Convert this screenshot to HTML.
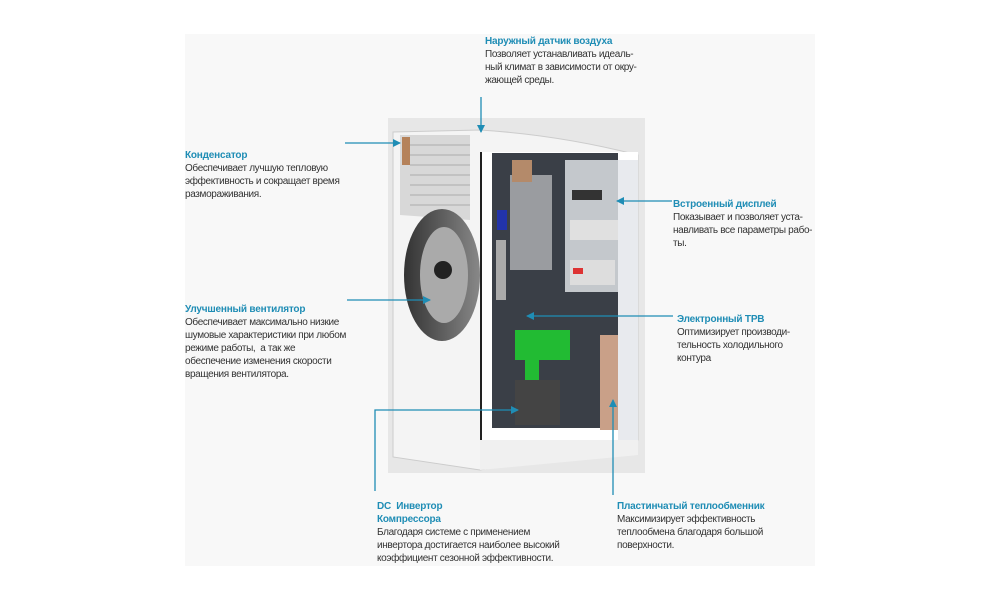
<!DOCTYPE html>
<html><head><meta charset="utf-8"><style>
html,body{margin:0;padding:0;background:#fff;}
#c{position:relative;width:1000px;height:600px;overflow:hidden;background:#fff;font-family:"Liberation Sans",sans-serif;}
#panel{position:absolute;left:185px;top:34px;width:630px;height:532px;background:#f8f8f8;}
.t{position:absolute;font-size:10px;line-height:13px;color:#333;letter-spacing:-0.35px;white-space:nowrap;}
.t b{color:#1f8db5;font-weight:bold;letter-spacing:-0.2px;}
svg{position:absolute;left:0;top:0;}
</style></head><body><div id="c">
<div id="panel"></div>
<svg width="1000" height="600" viewBox="0 0 1000 600">
<defs>
<marker id="a" markerWidth="8" markerHeight="8" refX="7" refY="4" orient="auto" markerUnits="userSpaceOnUse"><path d="M0,0 L8,4 L0,8 z" fill="#1f8db5"/></marker>
<linearGradient id="fan" x1="0" x2="1"><stop offset="0" stop-color="#333"/><stop offset="1" stop-color="#888"/></linearGradient>
</defs>
<rect x="388" y="118" width="257" height="355" fill="#e7e7e7"/>
<path d="M393,132 L480,130 Q560,135 638,155 L638,440 L480,470 L393,457 Z" fill="#f4f4f4" stroke="#ccc"/>
<path d="M400,135 L470,135 L470,220 L400,215 Z" fill="#d8d8d8"/>
<g stroke="#bbb" stroke-width="1.5"><line x1="410" y1="145" x2="470" y2="145"/><line x1="410" y1="155" x2="470" y2="155"/><line x1="410" y1="165" x2="470" y2="165"/><line x1="410" y1="175" x2="470" y2="175"/><line x1="410" y1="185" x2="470" y2="185"/><line x1="410" y1="195" x2="470" y2="195"/><line x1="410" y1="205" x2="470" y2="205"/></g>
<rect x="402" y="137" width="8" height="28" fill="#b5825a"/>
<ellipse cx="442" cy="275" rx="38" ry="66" fill="url(#fan)"/>
<ellipse cx="444" cy="275" rx="24" ry="48" fill="#aaa"/>
<circle cx="443" cy="270" r="9" fill="#222"/>
<rect x="480" y="152" width="158" height="288" fill="#fff"/>
<rect x="492" y="153" width="126" height="275" fill="#3a3f47"/>
<rect x="510" y="175" width="42" height="95" fill="#9a9ca0"/>
<rect x="512" y="160" width="20" height="22" fill="#b48a6a"/>
<rect x="565" y="160" width="55" height="132" fill="#c4c8cc"/>
<rect x="572" y="190" width="30" height="10" fill="#333"/>
<rect x="570" y="220" width="50" height="20" fill="#e0e0e0"/>
<rect x="570" y="260" width="45" height="25" fill="#ddd"/>
<rect x="573" y="268" width="10" height="6" fill="#d33"/>
<rect x="497" y="210" width="10" height="20" fill="#2233aa"/>
<rect x="496" y="240" width="10" height="60" fill="#aaa"/>
<rect x="515" y="330" width="55" height="30" fill="#22bb33"/>
<rect x="525" y="355" width="14" height="35" fill="#22bb33"/>
<rect x="515" y="380" width="45" height="45" fill="#444"/>
<rect x="600" y="335" width="18" height="95" fill="#c9a088"/>
<rect x="618" y="160" width="20" height="280" fill="#e8eaee"/>
<line x1="481" y1="152" x2="481" y2="440" stroke="#222" stroke-width="2"/>
<path d="M480,440 L638,440 L638,455 L480,470 Z" fill="#f0f0f0"/>
<g stroke="#1f8db5" stroke-width="1.3" fill="none">
<line x1="345" y1="143" x2="400" y2="143" marker-end="url(#a)"/>
<line x1="481" y1="97" x2="481" y2="132" marker-end="url(#a)"/>
<line x1="672" y1="201" x2="617" y2="201" marker-end="url(#a)"/>
<line x1="347" y1="300" x2="430" y2="300" marker-end="url(#a)"/>
<line x1="673" y1="316" x2="527" y2="316" marker-end="url(#a)"/>
<polyline points="375,491 375,410 518,410" marker-end="url(#a)"/>
<line x1="613" y1="495" x2="613" y2="400" marker-end="url(#a)"/>
</g>
</svg>
<div class="t" style="left:485px;top:35px"><b>Наружный датчик воздуха</b><br>Позволяет устанавливать идеаль-<br>ный климат в зависимости от окру-<br>жающей среды.</div>
<div class="t" style="left:185px;top:149px"><b>Конденсатор</b><br>Обеспечивает лучшую тепловую<br>эффективность и сокращает время<br>размораживания.</div>
<div class="t" style="left:673px;top:198px"><b>Встроенный дисплей</b><br>Показывает и позволяет уста-<br>навливать все параметры рабо-<br>ты.</div>
<div class="t" style="left:185px;top:303px"><b>Улучшенный вентилятор</b><br>Обеспечивает максимально низкие<br>шумовые характеристики при любом<br>режиме работы,&nbsp; а так же<br>обеспечение изменения скорости<br>вращения вентилятора.</div>
<div class="t" style="left:677px;top:313px"><b>Электронный ТРВ</b><br>Оптимизирует производи-<br>тельность холодильного<br>контура</div>
<div class="t" style="left:377px;top:500px"><b>DC&nbsp; Инвертор<br>Компрессора</b><br>Благодаря системе с применением<br>инвертора достигается наиболее высокий<br>коэффициент сезонной эффективности.</div>
<div class="t" style="left:617px;top:500px"><b>Пластинчатый теплообменник</b><br>Максимизирует эффективность<br>теплообмена благодаря большой<br>поверхности.</div>
</div></body></html>
